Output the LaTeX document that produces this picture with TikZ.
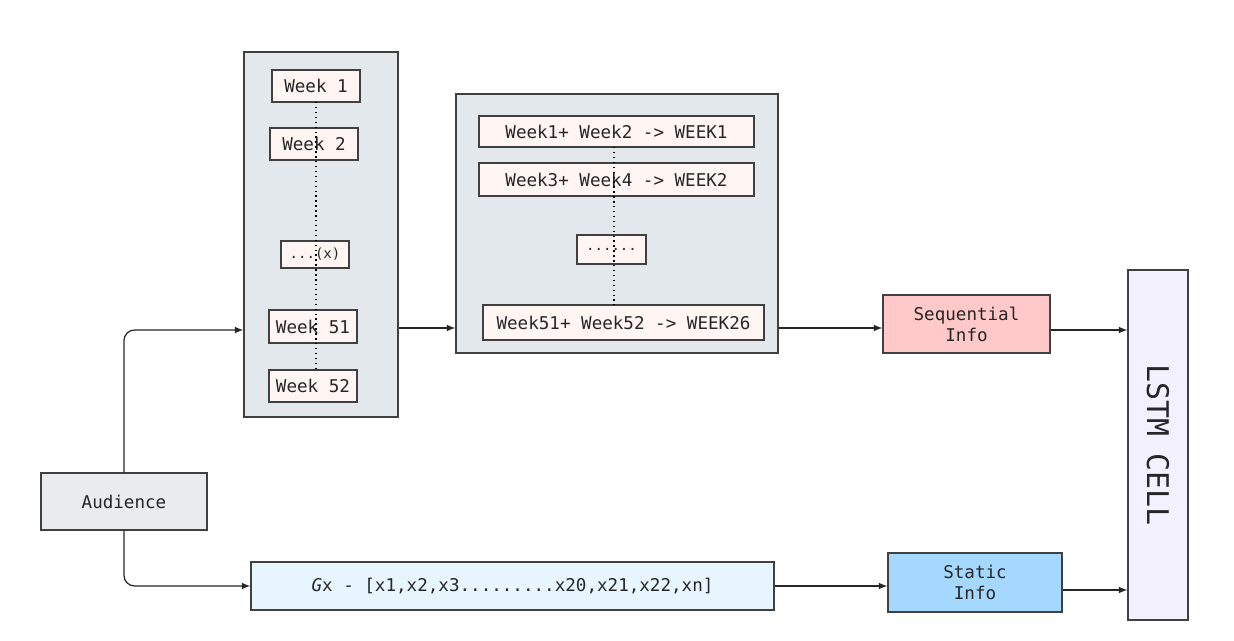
\documentclass[tikz,border=0pt]{standalone}
\usepackage{fontspec}
\setmonofont{DejaVu Sans Mono}
\usetikzlibrary{positioning}
\definecolor{grpfill}{HTML}{E3E8EC}
\definecolor{weekfill}{HTML}{FFF5F3}
\definecolor{seqfill}{HTML}{FFC9C9}
\definecolor{statfill}{HTML}{A5D8FF}
\definecolor{lstmfill}{HTML}{F3F0FF}
\definecolor{audfill}{HTML}{E9ECEF}
\definecolor{gxfill}{HTML}{E7F5FF}
\begin{document}
\begin{tikzpicture}[x=0.02cm, y=-0.02cm, >={latex[scale=1.4]},
  every node/.style={font=\ttfamily\fontsize{10}{12}\selectfont, text=black!85},
  box/.style={draw=black!75, line width=0.7pt, inner sep=0pt},
  group/.style={box, fill=grpfill},
  week/.style={box, fill=weekfill},
  conn/.style={->, line width=0.7pt, black!85},
  dotline/.style={dotted, line width=0.8pt}]
  \useasboundingbox (0,0) rectangle (1234,641);

  % Groepen
  \node[group, minimum width=154*0.02cm, minimum height=365*0.02cm] (grpA) at (321,234.5) {};
  \node[group, minimum width=322*0.02cm, minimum height=259*0.02cm] (grpB) at (617,223.5) {};

  % Weken
  \node[week, minimum width=88*0.02cm, minimum height=32*0.02cm] (w1) at (316,86) {Week 1};
  \node[week, minimum width=88*0.02cm, minimum height=32*0.02cm] (w2) at (314,144) {Week 2};
  \node[week, minimum width=68*0.02cm, minimum height=27*0.02cm, font=\ttfamily\fontsize{8}{10}\selectfont] (wx) at (315,254.5) {...(x)};
  \node[week, minimum width=88*0.02cm, minimum height=33*0.02cm] (w51) at (313,326.5) {Week 51};
  \node[week, minimum width=88*0.02cm, minimum height=32*0.02cm] (w52) at (313,386) {Week 52};

  % Samengevoegde weken
  \node[week, minimum width=275*0.02cm, minimum height=31*0.02cm] (p1) at (616.5,131.5) {Week1+ Week2 -> WEEK1};
  \node[week, minimum width=275*0.02cm, minimum height=33*0.02cm] (p2) at (616.5,179.5) {Week3+ Week4 -> WEEK2};
  \node[week, minimum width=69*0.02cm, minimum height=29*0.02cm, font=\ttfamily\fontsize{8}{10}\selectfont] (px) at (611.5,249.5) {......};
  \node[week, minimum width=281*0.02cm, minimum height=35*0.02cm] (p26) at (623.5,322.5) {Week51+ Week52 -> WEEK26};

  % Stippellijnen (over de blokken heen)
  \draw[dotline] (316,102) -- (316,370);
  \draw[dotline] (614,147) -- (614,305);

  % Overige blokken
  \node[box, fill=seqfill, minimum width=167*0.02cm, minimum height=58*0.02cm, align=center] (seq) at (966.5,324) {Sequential\\Info};
  \node[box, fill=statfill, minimum width=174*0.02cm, minimum height=59*0.02cm, align=center] (stat) at (975,582.5) {Static\\Info};
  \node[box, fill=lstmfill, minimum width=60*0.02cm, minimum height=350*0.02cm] (lstm) at (1158,445) {};
  \node[rotate=-90, font=\ttfamily\fontsize{17}{20}\selectfont] at (lstm.center) {LSTM CELL};
  \node[box, fill=audfill, minimum width=166*0.02cm, minimum height=57*0.02cm] (aud) at (124,501.5) {Audience};
  \node[box, fill=gxfill, minimum width=523*0.02cm, minimum height=48*0.02cm] (gx) at (512.5,586) {\textit{G}x - [x1,x2,x3.........x20,x21,x22,xn]};

  % Verbindingen
  \draw[conn, rounded corners=6pt] (aud.north) |- (grpA.west |- 0,330);
  \draw[conn, rounded corners=6pt] (aud.south) |- (gx.west);
  \draw[conn] (grpA.east |- 0,328) -- (grpB.west |- 0,328);
  \draw[conn] (grpB.east |- 0,328) -- (seq.west |- 0,328);
  \draw[conn] (seq.east |- 0,330) -- (lstm.west |- 0,330);
  \draw[conn] (gx.east) -- (stat.west |- gx.east);
  \draw[conn] (stat.east |- 0,590) -- (lstm.west |- 0,590);
\end{tikzpicture}
\end{document}
